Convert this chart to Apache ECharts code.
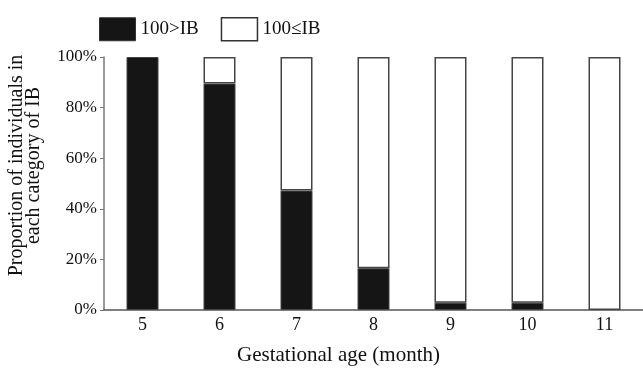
<!DOCTYPE html>
<html>
<head>
<meta charset="utf-8">
<script src="https://cdn.jsdelivr.net/npm/echarts@6/dist/echarts.min.js"></script>
<style>
  html, body { margin: 0; padding: 0; background: #fff; }
  #main { width: 643px; height: 368px; }
</style>
</head>
<body>
<div id="main"></div>
<script>
var months = ['5', '6', '7', '8', '9', '10', '11'];
var below100 = [100, 89.5, 47.2, 16.5, 2.9, 2.9, 0];
var atLeast100 = [0, 10.5, 52.8, 83.5, 97.1, 97.1, 100];
var yTicks = [0, 20, 40, 60, 80, 100];

var serif = '"Liberation Serif", "DejaVu Serif", serif';

// skip empty segments so they don't leave a border line
function noZero(arr) {
  return arr.map(function (v) { return v === 0 ? '-' : v; });
}

var chart = echarts.init(document.getElementById('main'), null, { renderer: 'canvas' });

var option = {
  animation: false,
  textStyle: { fontFamily: serif },
  legend: {
    left: 94,
    top: 12,
    icon: 'rect',
    itemWidth: 36,
    itemHeight: 23,
    itemGap: 22,
    textStyle: { fontFamily: serif, fontSize: 19, color: '#111' },
    data: [
      { name: '100>IB', itemStyle: { color: '#151515', borderColor: '#333', borderWidth: 1 } },
      { name: '100\u2264IB', itemStyle: { color: '#fff', borderColor: '#333', borderWidth: 1.5 } }
    ]
  },
  grid: { left: 104, right: 0, top: 57, bottom: 58, outerBoundsMode: 'none', containLabel: false },
  xAxis: {
    type: 'category',
    data: months,
    name: 'Gestational age (month)',
    nameLocation: 'middle',
    nameGap: 35,
    nameTextStyle: { fontFamily: serif, fontSize: 21, color: '#111', padding: [0, 70, 0, 0] },
    axisLine: { lineStyle: { color: '#555', width: 1.5 } },
    axisTick: { inside: true, length: 5, lineStyle: { color: '#555' } },
    axisLabel: { fontFamily: serif, fontSize: 18, color: '#111', margin: 6 }
  },
  yAxis: {
    type: 'value',
    min: yTicks[0],
    max: yTicks[yTicks.length - 1],
    interval: 20,
    name: 'Proportion of individuals in\neach category of IB',
    nameLocation: 'middle',
    nameGap: 62,
    nameTextStyle: {
      fontFamily: serif, fontSize: 20, color: '#111', lineHeight: 17,
      padding: [0, 0, 0, 36]
    },
    axisLine: { show: true, lineStyle: { color: '#777', width: 1.5 } },
    axisTick: { show: true, length: 4, lineStyle: { color: '#777' } },
    splitLine: { show: false },
    axisLabel: {
      fontFamily: serif, fontSize: 17, color: '#111', margin: 7,
      formatter: function (v) { return v + '%'; }
    }
  },
  series: [
    {
      name: '100>IB',
      type: 'bar',
      stack: 'ib',
      barWidth: 32,
      data: noZero(below100),
      itemStyle: { color: '#151515', borderColor: '#444', borderWidth: 1 }
    },
    {
      name: '100\u2264IB',
      type: 'bar',
      stack: 'ib',
      barWidth: 32,
      data: noZero(atLeast100),
      itemStyle: { color: '#fff', borderColor: '#444', borderWidth: 1.5 }
    }
  ]
};

chart.setOption(option);
</script>
</body>
</html>
